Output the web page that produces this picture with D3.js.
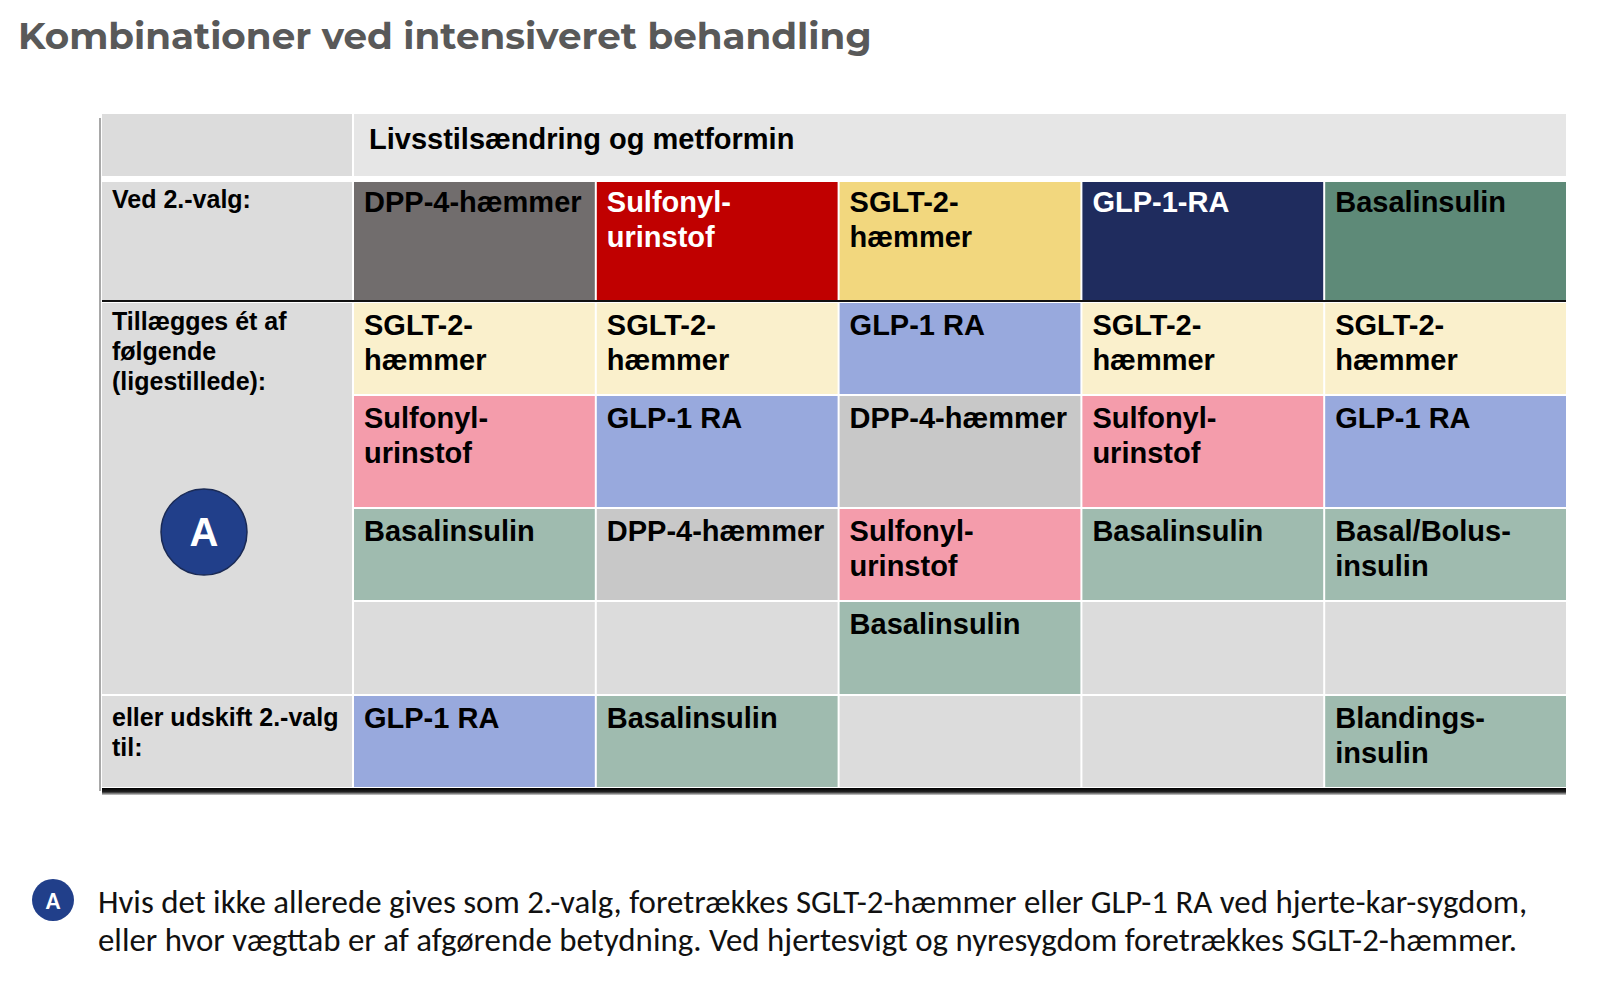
<!DOCTYPE html>
<html>
<head>
<meta charset="utf-8">
<script src="https://cdn.jsdelivr.net/npm/d3@7"></script>
<style>
  html, body { margin: 0; padding: 0; background: #fff; }
  svg { display: block; }
</style>
</head>
<body>
<svg id="chart" width="1600" height="989"></svg>
<script>
// ---- data ----
const title = 'Kombinationer ved intensiveret behandling';
const headerText = 'Livsstilsændring og metformin';
const rowLabels = ['Ved 2.-valg:', 'Tillægges ét af\nfølgende\n(ligestillede):', 'eller udskift 2.-valg\ntil:'];
const secondChoice = ['dpp4', 'su', 'sglt2', 'glp1', 'basal'];
const secondChoiceText = ['DPP-4-hæmmer', 'Sulfonyl-\nurinstof', 'SGLT-2-\nhæmmer', 'GLP-1-RA', 'Basalinsulin'];
const addOnRows = [
    ['sglt2', 'sglt2', 'glp1', 'sglt2', 'sglt2'],
    ['su', 'glp1', 'dpp4', 'su', 'glp1'],
    ['basal', 'dpp4', 'su', 'basal', 'basalbolus'],
    [null, null, 'basal', null, null]
];
const replaceRow = ['glp1', 'basal', null, null, 'mix'];
const drugText = {
    sglt2: 'SGLT-2-\nhæmmer',
    glp1: 'GLP-1 RA',
    dpp4: 'DPP-4-hæmmer',
    su: 'Sulfonyl-\nurinstof',
    basal: 'Basalinsulin',
    basalbolus: 'Basal/Bolus-\ninsulin',
    mix: 'Blandings-\ninsulin'
};
const noteMark = 'A';
const noteLines = [
    'Hvis det ikke allerede gives som 2.-valg, foretrækkes SGLT-2-hæmmer eller GLP-1 RA ved hjerte-kar-sygdom,',
    'eller hvor vægttab er af afgørende betydning. Ved hjertesvigt og nyresygdom foretrækkes SGLT-2-hæmmer.'
];

// ---- styles ----
const strongColor = { dpp4: '#716d6d', su: '#c00000', sglt2: '#f2d77e', glp1: '#1f2c5e', basal: '#5e8a78' };
const strongText = { dpp4: '#000', su: '#fff', sglt2: '#000', glp1: '#fff', basal: '#000' };
const lightColor = {
    sglt2: '#faf0cc', su: '#f49cab', glp1: '#98a9dd', dpp4: '#c8c8c8',
    basal: '#9fbbaf', basalbolus: '#9fbbaf', mix: '#9fbbaf'
};
const emptyColor = '#dcdcdc';
const cellFont = "'Liberation Sans', Arial, sans-serif";

// ---- layout ----
const tableLeft = 102, labelRight = 352, tableRight = 1566;
const rowHeights = [62, 119, 91, 111, 91, 92, 91];
const rowGaps = [0, 6, 2, 2, 2, 2, 2];
const rowTop = [];
let yCursor = 114;
rowHeights.forEach(function(h, i) {
    yCursor += rowGaps[i];
    rowTop.push(yCursor);
    yCursor += h;
});
const tableBottom = yCursor;

const svg = d3.select('#chart');

var x = d3.scaleBand()
        .domain(d3.range(secondChoice.length))
        .range([labelRight + 2, tableRight])
        .paddingInner(2 / 243)
        .paddingOuter(0);

function addText(g, str, tx, ty, size, color, lh) {
    let t = g.append('text')
        .attr('x', tx)
        .attr('y', ty)
        .style('font-family', cellFont)
        .style('font-weight', 'bold')
        .style('font-size', size + 'px')
        .style('fill', color);
    str.split('\n').forEach(function(line, i) {
        t.append('tspan')
            .attr('x', tx)
            .attr('dy', i === 0 ? 0 : lh)
            .text(line);
    });
    return t;
}

// title
let titleText = svg.append('text')
    .attr('x', 18)
    .attr('y', 49)
    .style('font-family', "Montserrat, 'Open Sans', sans-serif")
    .style('font-weight', '700')
    .style('font-size', '38px')
    .style('fill', '#595959')
    .text(title);
let tw = titleText.node().getComputedTextLength();
titleText.style('font-size', (38 * 854 / tw) + 'px');

// shadow
let defs = svg.append('defs');
let grad = defs.append('linearGradient')
    .attr('id', 'shadowGrad')
    .attr('x1', 0).attr('y1', 0).attr('x2', 0).attr('y2', 1);
grad.append('stop').attr('offset', '0%').attr('stop-color', '#000');
grad.append('stop').attr('offset', '55%').attr('stop-color', '#222');
grad.append('stop').attr('offset', '100%').attr('stop-color', '#d0d0d0');
svg.append('rect')
    .attr('x', tableLeft)
    .attr('y', tableBottom + 1)
    .attr('width', tableRight - tableLeft)
    .attr('height', 7)
    .style('fill', 'url(#shadowGrad)');
svg.append('rect')
    .attr('x', tableLeft - 3)
    .attr('y', rowTop[0] + 4)
    .attr('width', 2)
    .attr('height', tableBottom - rowTop[0])
    .style('fill', '#a8a8a8');

// header row
svg.append('rect')
    .attr('x', tableLeft).attr('y', rowTop[0])
    .attr('width', labelRight - tableLeft).attr('height', rowHeights[0])
    .style('fill', emptyColor);
svg.append('rect')
    .attr('x', x(0)).attr('y', rowTop[0])
    .attr('width', tableRight - x(0)).attr('height', rowHeights[0])
    .style('fill', '#e6e6e6');
addText(svg, headerText, x(0) + 15, rowTop[0] + 35, 29, '#000', 35);

// label column
svg.append('rect')
    .attr('x', tableLeft).attr('y', rowTop[1])
    .attr('width', labelRight - tableLeft).attr('height', rowHeights[1])
    .style('fill', emptyColor);
svg.append('rect')
    .attr('x', tableLeft).attr('y', rowTop[2])
    .attr('width', labelRight - tableLeft).attr('height', rowTop[5] + rowHeights[5] - rowTop[2])
    .style('fill', emptyColor);
svg.append('rect')
    .attr('x', tableLeft).attr('y', rowTop[6])
    .attr('width', labelRight - tableLeft).attr('height', rowHeights[6])
    .style('fill', emptyColor);
addText(svg, rowLabels[0], 112, rowTop[1] + 26, 25, '#000', 30);
addText(svg, rowLabels[1], 112, rowTop[2] + 27, 25, '#000', 30);
addText(svg, rowLabels[2], 112, rowTop[6] + 30, 25, '#000', 30);

// marker A in label column
svg.append('circle')
    .attr('cx', 204).attr('cy', 532).attr('r', 43)
    .style('fill', '#213f8a')
    .style('stroke', '#1a2a55')
    .style('stroke-width', 1.5);
svg.append('text')
    .attr('x', 204).attr('y', 546)
    .attr('text-anchor', 'middle')
    .style('font-family', cellFont)
    .style('font-weight', 'bold')
    .style('font-size', '40px')
    .style('fill', '#fff')
    .text(noteMark);

// second choice row
let second = svg.append('g').attr('class', 'secondChoice');
secondChoice.forEach(function(d, i) {
    second.append('rect')
        .attr('x', x(i)).attr('y', rowTop[1])
        .attr('width', x.bandwidth()).attr('height', rowHeights[1])
        .style('fill', strongColor[d]);
    addText(second, secondChoiceText[i], x(i) + 10, rowTop[1] + 30, 29, strongText[d], 35);
});

// add-on rows
let addOns = svg.append('g').attr('class', 'addOns');
addOnRows.forEach(function(row, r) {
    row.forEach(function(d, i) {
        addOns.append('rect')
            .attr('x', x(i)).attr('y', rowTop[r + 2])
            .attr('width', x.bandwidth()).attr('height', rowHeights[r + 2])
            .style('fill', d ? lightColor[d] : emptyColor);
        if (d) addText(addOns, drugText[d], x(i) + 10, rowTop[r + 2] + 32, 29, '#000', 35);
    });
});

// replacement row
let repl = svg.append('g').attr('class', 'replace');
replaceRow.forEach(function(d, i) {
    repl.append('rect')
        .attr('x', x(i)).attr('y', rowTop[6])
        .attr('width', x.bandwidth()).attr('height', rowHeights[6])
        .style('fill', d ? lightColor[d] : emptyColor);
    if (d) addText(repl, drugText[d], x(i) + 10, rowTop[6] + 32, 29, '#000', 35);
});

// black rule under second choice row
svg.append('rect')
    .attr('x', tableLeft)
    .attr('y', rowTop[1] + rowHeights[1] - 1)
    .attr('width', tableRight - tableLeft)
    .attr('height', 2)
    .style('fill', '#111');

// footnote
svg.append('circle')
    .attr('cx', 53).attr('cy', 900).attr('r', 21)
    .style('fill', '#213f8a');
svg.append('text')
    .attr('x', 53).attr('y', 909)
    .attr('text-anchor', 'middle')
    .style('font-family', "Carlito, Calibri, 'Open Sans', sans-serif")
    .style('font-weight', 'bold')
    .style('font-size', '24px')
    .style('fill', '#fff')
    .text(noteMark);
let note = svg.append('text')
    .style('font-family', "Carlito, Calibri, Lato, sans-serif")
    .style('font-size', '30px')
    .style('fill', '#111');
noteLines.forEach(function(line, i) {
    note.append('tspan')
        .attr('x', 98)
        .attr('y', 913 + i * 38)
        .text(line);
});
let nw = note.select('tspan').node().getComputedTextLength();
note.style('font-size', (30 * 1430 / nw) + 'px');
</script>
</body>
</html>
